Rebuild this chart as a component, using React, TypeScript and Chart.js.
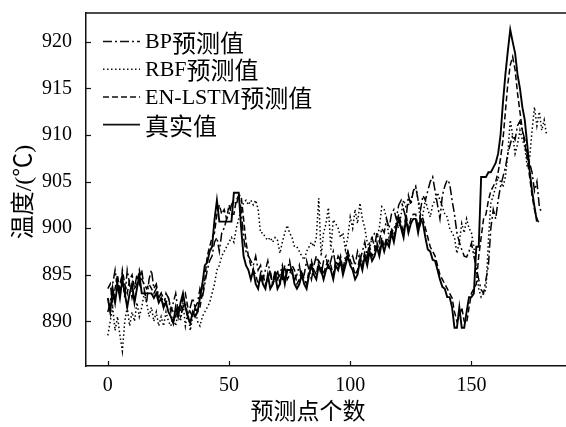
import React, { useEffect, useRef } from "react";
import { Chart, registerables } from "chart.js";

Chart.register(...registerables);

const seriesNames = ["BP预测值", "RBF预测值", "EN-LSTM预测值", "真实值"];
const xTicks = [0, 50, 100, 150];
const yTicks = [890, 895, 900, 905, 910, 915, 920];

const bpValues = [
  891, 892, 894, 895.5, 893.5, 894, 895, 892.5, 895.5, 894,
  892.5, 893.5, 895, 894, 895.5, 893.5, 892, 894.5, 895.5, 893.5,
  894, 892.5, 893, 891.5, 893, 892.5, 891, 892, 893, 891,
  890.5, 891.5, 892, 890.5, 891.5, 892.5, 891.5, 892, 893.5, 892.5,
  894, 895.5, 896.5, 897, 898.5, 899, 897.5, 899.5, 900, 901,
  901.5, 902.5, 903, 902.5, 903.5, 902, 899, 897.5, 897, 896.5,
  896, 897, 895.5, 896, 894.5, 895.5, 896.5, 895, 894, 895.5,
  894.5, 895, 896, 894.5, 895.5, 896.5, 895, 894.5, 895, 896,
  894.5, 895, 896.5, 895.5, 894.5, 896, 897, 896, 895, 896.5,
  897, 895.5, 896.5, 897.5, 896, 897, 896.5, 895.5, 897, 897.5,
  896.5, 897, 896, 897.5, 896.5, 897.5, 898.5, 897, 898.5, 899,
  898, 899.5, 898.5, 900, 899.5, 901, 900, 901.5, 902, 901,
  902.5, 903, 902, 901, 903.5, 902.5, 904, 904.5, 903, 902,
  903.5, 903, 904, 905, 905.5, 904, 902.5, 901, 903.5, 904.5,
  905.2, 904.8, 903, 901.5, 899.5, 898.5, 897.7, 897, 896.9, 897.5,
  898.4, 897, 895.8, 894.5, 893.4, 893, 894.5, 896, 900, 902,
  901, 903, 904.5, 905.5, 906.5, 908, 909, 910, 909.5, 911,
  911.5, 910.5, 909.5, 908, 907, 906, 904, 905, 902.3, 901.6,
];

const rbfValues = [
  888.5, 890, 891.5, 889, 890.5, 888.5, 886.8, 890, 891.5, 889.5,
  891, 890, 892, 890.5, 891.5, 893, 892, 890.5, 891.5, 890,
  891, 889.5, 890.5, 889.5, 891, 890, 889.5, 890.5, 889.5, 891,
  890, 892, 889.5, 891, 889, 890.5, 891.5, 890, 889.5, 890.5,
  891, 891.5, 892, 893, 894, 895.5, 896, 897, 897.5, 898,
  898.5, 899, 898.5, 900, 901, 902, 902.7, 903, 902.5, 903,
  902.5, 903, 902, 899.5, 899.5, 899, 898.7, 899, 898.5, 899,
  898.7, 897.3, 898.5, 899.5, 900.3, 899.5, 899, 898, 898, 897.5,
  897, 896.6, 897.5, 898, 898.5, 898, 899, 903.2, 897, 899.5,
  900.5, 902.2, 897.7, 900.9, 900.5, 900, 899, 899.5, 897.7, 899,
  901.2, 900, 902, 900.5, 902.7, 901, 900, 898.5, 897.8, 899,
  899.4, 899, 900, 902.3, 902, 901, 899, 899.5, 900, 900.5,
  900, 901.5, 903, 902.3, 902.5, 903, 904, 904.4, 903, 900.5,
  901.5, 903, 902, 901.2, 902.5, 903, 903.8, 903, 902.3, 901.5,
  901.2, 900, 899.5, 899, 897.3, 898.5, 900.5, 899.5, 901, 900,
  899.5, 898, 895.5, 893.5, 892.6, 893, 893.4, 898.7, 902.7, 903.5,
  904.4, 905.5, 905, 904.4, 905.5, 908, 911.6, 910, 908, 909,
  910.5, 909.5, 908.7, 906.6, 907.5, 910.5, 913, 911, 912.5, 910.5,
  911.6, 910,
];

const lstmValues = [
  893.5, 894, 892, 893.5, 895, 893, 895.5, 894, 893, 894.5,
  895, 893.5, 894, 895.5, 894.5, 894, 893.5, 894, 893.5, 893,
  893.5, 892.5, 893, 892.5, 892, 892.5, 891.5, 891, 890.5, 891.5,
  891, 892.5, 893, 891.5, 891, 890.5, 891.5, 891, 891.5, 893,
  894.5, 897, 898, 899, 899.5, 901.5, 902.5, 901.5, 902, 901,
  902.5, 901.5, 901.5, 903, 903.5, 903.5, 901, 898.5, 897, 896,
  895.5, 895, 894, 894.5, 895, 894, 894.5, 895.5, 894, 894.5,
  895.5, 894, 894.5, 896, 894.5, 895, 896, 895.5, 894, 894.5,
  895.5, 894.5, 894, 895.5, 896.5, 895.5, 895, 896.5, 896, 895,
  896, 896.5, 896, 895, 896.5, 896, 897, 895.5, 896.5, 897.5,
  896.5, 896, 895, 895.5, 897, 896, 897.5, 896.5, 898, 897,
  897.5, 898.5, 897.5, 899, 898, 899, 898.5, 900, 899, 900.5,
  901.5, 900.5, 899.5, 901.5, 900, 901, 901.5, 901.5, 900, 901.5,
  901, 900, 899, 898, 897.5, 897, 896, 895, 894.5, 894,
  893.5, 893, 892.5, 891, 890, 890.5, 891.5, 890, 889.8, 891.5,
  893, 893.5, 894, 897, 899, 901, 901.5, 903, 904, 904.5,
  905, 906, 907.5, 909.5, 912.5, 915.5, 917.5, 918.4, 917, 914.5,
  912.5, 910.5, 909, 907.5, 905.5, 903.5, 902, 901, 900.5,
];

const realValues = [
  892.5, 891, 893.5, 892, 894, 892.5, 894.5, 893, 891.5, 893,
  894, 892, 893.5, 895, 893, 893, 893, 893, 893, 892.5,
  893, 892, 892.5, 891.5, 892, 891, 890.5, 889.8, 891.5, 890.5,
  892, 893, 891.5, 890.5, 889.8, 891, 890.5, 891, 892.5, 894,
  896, 896.3, 897.5, 898, 900.9, 903, 900.7, 900.7, 900.7, 900.7,
  900.7, 900.7, 903.8, 903.8, 903.8, 900, 897, 896, 895.5, 894.5,
  895.5, 894, 893.5, 895, 894, 893.5, 895, 893.5, 894, 895,
  893.5, 894, 895.5, 894, 895.5, 895.5, 895.5, 894, 893.5, 894,
  895, 894, 893.5, 895, 896, 895, 894.5, 896, 895.5, 894.5,
  895.5, 896, 895.5, 894.5, 896, 895.5, 896.5, 895, 896, 897,
  896, 895.5, 894.5, 895, 896.5, 895.5, 897, 896, 897.5, 896.5,
  897, 898, 897, 898.5, 897.5, 898.5, 898, 899.5, 898.5, 900,
  901, 900, 899, 901, 899.5, 900.5, 901, 901, 899.5, 901,
  900.5, 899, 897.7, 897.5, 896.6, 896.5, 895.5, 894.5, 893.7, 893.5,
  892.6, 892.6, 891.5, 889.3, 889.3, 891.5, 889.3, 889.3, 891, 892.6,
  892.6, 893, 898, 898, 905.5, 905.5, 905.5, 906, 906, 906.5,
  907, 908, 910, 913.5, 916.5, 919, 921.3, 920, 918.8, 916.5,
  915, 913, 911.6, 909, 906.2, 904, 902.3, 900.7,
];

const allValues = [bpValues, rbfValues, lstmValues, realValues];
const dashes = [[9, 3, 2, 3], [1.5, 2.5], [6, 3], []];
const widths = [1.5, 1.5, 1.5, 1.9];

const SERIF = '"Liberation Serif", "Times New Roman", "Noto Sans CJK SC", serif';
const CJK = '"Noto Sans CJK SC", "Liberation Serif", serif';
const INK = "#111";

const decorPlugin = {
  id: "decor",
  afterDraw(chart: any) {
    const { ctx, chartArea: a, scales } = chart;
    ctx.save();
    ctx.strokeStyle = INK;
    ctx.lineWidth = 1.5;
    ctx.setLineDash([]);
    ctx.beginPath();
    ctx.moveTo(a.left, a.top);
    ctx.lineTo(a.right, a.top);
    ctx.stroke();
    ctx.lineWidth = 1.2;
    scales.x.ticks.forEach((t: any) => {
      const px = Math.round(scales.x.getPixelForValue(t.value)) + 0.5;
      ctx.beginPath();
      ctx.moveTo(px, a.bottom);
      ctx.lineTo(px, a.bottom - 5);
      ctx.stroke();
    });
    scales.y.ticks.forEach((t: any) => {
      const py = Math.round(scales.y.getPixelForValue(t.value)) + 0.5;
      ctx.beginPath();
      ctx.moveTo(a.left, py);
      ctx.lineTo(a.left + 5, py);
      ctx.stroke();
    });
    const ds = chart.data.datasets;
    ctx.textBaseline = "middle";
    ctx.textAlign = "left";
    ctx.fillStyle = "#000";
    ds.forEach((d: any, i: number) => {
      const y = a.top + 28.5 + i * 27.7;
      ctx.lineWidth = d.borderWidth;
      ctx.setLineDash(d.borderDash || []);
      ctx.beginPath();
      ctx.moveTo(a.left + 17, y);
      ctx.lineTo(a.left + 54, y);
      ctx.stroke();
      ctx.setLineDash([]);
      const m = String(d.label).match(/^([\x00-\x7F]*)(.*)$/) || ["", "", d.label];
      let x = a.left + 59;
      if (m[1]) {
        ctx.font = `22px ${SERIF}`;
        ctx.fillText(m[1], x, y + 1);
        x += ctx.measureText(m[1]).width;
      }
      ctx.font = `24px ${CJK}`;
      ctx.fillText(m[2], x, y + 1);
    });
    ctx.font = `23px ${SERIF}`;
    ctx.textAlign = "center";
    ctx.fillText("预测点个数", a.left + 222, a.bottom + 47);
    ctx.font = `24px ${SERIF}`;
    ctx.translate(25, a.top + 179);
    ctx.rotate(-Math.PI / 2);
    ctx.fillText("温度/(℃)", 0, 0);
    ctx.restore();
  },
};

export default function App() {
  const ref = useRef<HTMLCanvasElement | null>(null);
  useEffect(() => {
    if (!ref.current) return;
    const chart = new Chart(ref.current, {
      type: "line",
      data: {
        datasets: seriesNames.map((name, i) => ({
          label: name,
          data: allValues[i].map((v, j) => ({ x: j, y: v })),
          borderColor: "#000",
          backgroundColor: "#000",
          borderWidth: widths[i],
          borderDash: dashes[i],
          pointRadius: 0,
          tension: 0,
          fill: false,
        })),
      },
      options: {
        animation: false,
        responsive: false,
        devicePixelRatio: 1,
        layout: { padding: { left: 0, right: 0, top: 13, bottom: 0 } },
        plugins: { legend: { display: false }, tooltip: { enabled: false } },
        scales: {
          x: {
            type: "linear",
            min: -9,
            max: 189,
            afterBuildTicks: (s: any) => {
              s.ticks = xTicks.map((v) => ({ value: v }));
            },
            afterFit: (s: any) => {
              s.height = 61;
              s.paddingLeft = 0;
              s.paddingRight = 0;
            },
            grid: { display: false, drawTicks: false },
            border: { display: true, color: INK, width: 1.5 },
            ticks: {
              padding: 8,
              color: "#000",
              font: { family: SERIF, size: 20 },
              maxRotation: 0,
              callback: (v: any) => String(v),
            },
          },
          y: {
            type: "linear",
            min: 885.2,
            max: 923.1,
            afterBuildTicks: (s: any) => {
              s.ticks = yTicks.map((v) => ({ value: v }));
            },
            afterFit: (s: any) => {
              s.width = 86;
              s.paddingTop = 0;
              s.paddingBottom = 0;
            },
            grid: { display: false, drawTicks: false },
            border: { display: true, color: INK, width: 1.5 },
            ticks: {
              padding: 14,
              color: "#000",
              font: { family: SERIF, size: 20 },
              callback: (v: any) => String(v),
            },
          },
        },
      },
      plugins: [decorPlugin],
    });
    return () => chart.destroy();
  }, []);
  return (
    <div style={{ position: "absolute", left: 0, top: 0, width: 566, height: 427, background: "#fff" }}>
      <canvas ref={ref} width={566} height={427} />
    </div>
  );
}
